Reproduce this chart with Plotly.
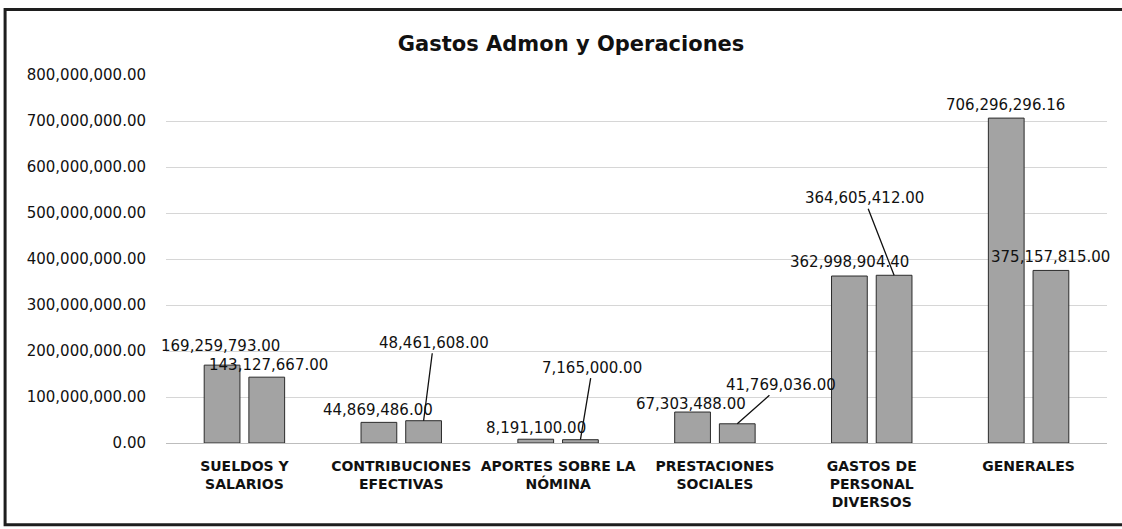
import plotly.graph_objects as go

# Categories and the two series of amounts
categories = [
    "SUELDOS Y<br>SALARIOS",
    "CONTRIBUCIONES<br>EFECTIVAS",
    "APORTES SOBRE LA<br>NÓMINA",
    "PRESTACIONES<br>SOCIALES",
    "GASTOS DE<br>PERSONAL<br>DIVERSOS",
    "GENERALES",
]
serie_a = [169259793.00, 44869486.00, 8191100.00, 67303488.00, 362998904.40, 706296296.16]
serie_b = [143127667.00, 48461608.00, 7165000.00, 41769036.00, 364605412.00, 375157815.00]
y_ticks = [0, 100e6, 200e6, 300e6, 400e6, 500e6, 600e6, 700e6, 800e6]

BAR_GAP = 0.43
OFF = (1 - BAR_GAP) / 4  # centre offset of each bar inside its group (category units)

FONT = "DejaVu Sans"
bar_style = dict(color="#a3a3a3", line=dict(color="#2b2b2b", width=1))

fig = go.Figure()
fig.add_trace(go.Bar(x=list(range(len(categories))), y=serie_a, marker=bar_style, name="A"))
fig.add_trace(go.Bar(x=list(range(len(categories))), y=serie_b, marker=bar_style, name="B"))


def fmt(v):
    return f"{v:,.2f}"


label_font = dict(family=FONT, size=15, color="#111")

# Labels placed just above their bar: (series, index, dx px, dy px)
plain = [
    (serie_a, 0, -2, -19), (serie_b, 0, 2, -12),
    (serie_a, 1, -1, -12), (serie_a, 2, 0, -11),
    (serie_a, 3, -2, -8), (serie_a, 4, 0, -14),
    (serie_a, 5, -1, -13), (serie_b, 5, 0, -13),
]
for serie, i, dx, dy in plain:
    off = -OFF if serie is serie_a else OFF
    fig.add_annotation(
        x=i + off, y=serie[i], text=fmt(serie[i]), showarrow=False,
        xshift=dx, yshift=-dy, font=label_font,
    )

# Labels connected to their bar by a leader line: (series, index, ax, ay)
leader = [
    (serie_b, 1, 10, -78),
    (serie_b, 2, 12, -72),
    (serie_b, 3, 44, -39),
    (serie_b, 4, -30, -77),
]
for serie, i, ax, ay in leader:
    off = -OFF if serie is serie_a else OFF
    fig.add_annotation(
        x=i + off, y=serie[i], text=fmt(serie[i]), showarrow=True,
        arrowhead=0, arrowwidth=1.3, arrowcolor="#111", ax=ax, ay=ay,
        font=label_font, standoff=0,
    )

# Outer frame of the chart
fig.add_shape(
    type="rect", xref="paper", yref="paper",
    x0=-0.171, x1=1.06, y0=-0.222, y1=1.178,
    line=dict(color="#1e1e1e", width=3), fillcolor="rgba(0,0,0,0)", layer="above",
)

fig.update_layout(
    width=1122, height=529,
    margin=dict(l=166, r=15, t=75, b=86),
    paper_bgcolor="white", plot_bgcolor="white",
    barmode="group", bargap=BAR_GAP, bargroupgap=0.2,
    showlegend=False,
    title=dict(
        text="<b>Gastos Admon y Operaciones</b>", x=0.509, xanchor="center",
        y=0.918, yanchor="middle",
        font=dict(family=FONT, size=21, color="#111"),
    ),
    xaxis=dict(
        tickmode="array", tickvals=list(range(len(categories))),
        ticktext=[f"<b>{c}</b>" for c in categories],
        range=[-0.5, len(categories) - 0.5],
        showgrid=False, showline=False, ticks="",
        tickfont=dict(family=FONT, size=14, color="#111"),
        ticklabelstandoff=13,
    ),
    yaxis=dict(
        range=[0, 800e6], tickvals=y_ticks, tickformat=",.2f",
        showgrid=True, gridcolor="#d6d6d6", gridwidth=1,
        zeroline=True, zerolinecolor="#bdbdbd", zerolinewidth=1,
        showline=False, ticks="",
        tickfont=dict(family=FONT, size=15, color="#111"),
        ticklabelstandoff=19,
    ),
)

fig.write_html("out.html")
